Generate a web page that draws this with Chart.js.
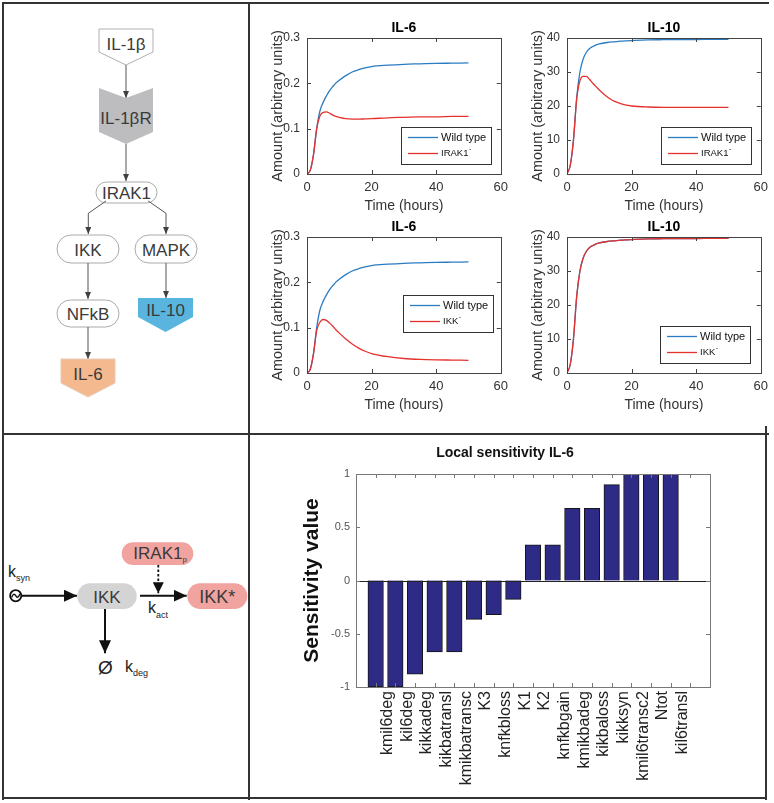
<!DOCTYPE html>
<html>
<head>
<meta charset="utf-8">
<title>IL-1b signalling model</title>
<script src="https://cdn.jsdelivr.net/npm/chart.js@4.4.0/dist/chart.umd.min.js"></script>
<style>
  body { margin: 0; background: #fff; font-family: "Liberation Sans", Arial, sans-serif; }
  #page { position: relative; width: 774px; height: 803px; overflow: hidden; }
  .rule { position: absolute; background: #333; }
  canvas { position: absolute; }
  svg { position: absolute; left: 0; top: 0; }
  svg text { font-family: "Liberation Sans", Arial, sans-serif; }
</style>
</head>
<body>
<div id="page">
  <!-- figure grid -->
  <div class="rule" style="left:2px;top:2px;width:767px;height:2px"></div>
  <div class="rule" style="left:2px;top:2px;width:2px;height:798px"></div>
  <div class="rule" style="left:248px;top:2px;width:2px;height:798px"></div>
  <div class="rule" style="left:2px;top:433px;width:767px;height:2px"></div>
  <div class="rule" style="left:765px;top:426px;width:2px;height:374px"></div>
  <div class="rule" style="left:2px;top:797px;width:765px;height:2px"></div>

  <svg width="249" height="803">
    <defs>
      <marker id="tip" viewBox="0 0 7 6" refX="7" refY="3" markerWidth="7" markerHeight="6" markerUnits="userSpaceOnUse" orient="auto">
        <path d="M0,0 L7,3 L0,6 z" fill="#404040"/>
      </marker>
      <marker id="bigtip" viewBox="0 0 13 12" refX="13" refY="6" markerWidth="13" markerHeight="12" markerUnits="userSpaceOnUse" orient="auto">
        <path d="M0,0 L13,6 L0,12 z" fill="#111"/>
      </marker>
      <marker id="midtip" viewBox="0 0 11 11" refX="11" refY="5.5" markerWidth="11" markerHeight="11" markerUnits="userSpaceOnUse" orient="auto">
        <path d="M0,0 L11,5.5 L0,11 z" fill="#111"/>
      </marker>
    </defs>

    <!-- pathway -->
    <g fill="#3a3a3a" font-size="17" text-anchor="middle">
      <polygon points="99,29 153,29 153,52 126,65 99,52" fill="#fff" stroke="#b0b0b0"/>
      <text x="126" y="49.5">IL-1β</text>
      <line x1="126" y1="65" x2="126" y2="98" stroke="#555" marker-end="url(#tip)"/>

      <polygon points="99,88 126,98 153,88 153,132 126,144 99,132" fill="#bdbdbf"/>
      <text x="126" y="124">IL-1βR</text>
      <line x1="126" y1="144" x2="126" y2="181" stroke="#555" marker-end="url(#tip)"/>

      <rect x="96" y="182" width="61" height="21" rx="10.5" fill="#fff" stroke="#aaa"/>
      <text x="126.5" y="198.5">IRAK1</text>
      <polyline points="106,201 88.3,213.3 88.3,234" fill="none" stroke="#555" marker-end="url(#tip)"/>
      <polyline points="148.3,201 166,213.3 166,234" fill="none" stroke="#555" marker-end="url(#tip)"/>

      <rect x="57" y="235" width="62" height="28" rx="14" fill="#fff" stroke="#aaa"/>
      <text x="88" y="255.5">IKK</text>
      <rect x="135" y="235" width="62" height="28" rx="14" fill="#fff" stroke="#aaa"/>
      <text x="166" y="255.5">MAPK</text>

      <line x1="88" y1="263" x2="88" y2="299" stroke="#555" marker-end="url(#tip)"/>
      <rect x="57" y="300" width="62" height="27" rx="13.5" fill="#fff" stroke="#aaa"/>
      <text x="88" y="319.5">NFkB</text>

      <line x1="166" y1="263" x2="166" y2="298" stroke="#555" marker-end="url(#tip)"/>
      <polygon points="138,298 193,298 193,317 165.5,332 138,317" fill="#59b5de"/>
      <text x="165.5" y="316">IL-10</text>

      <line x1="88" y1="327" x2="88" y2="359" stroke="#555" marker-end="url(#tip)"/>
      <polygon points="61,359 115,359 115,383 88,397 61,383" fill="#f4b98f" stroke="#e6cbb8"/>
      <text x="88" y="379.5">IL-6</text>
    </g>

    <!-- IKK module -->
    <g fill="#222">
      <text x="8" y="577" font-size="16">k<tspan font-size="9" dy="4">syn</tspan></text>
      <circle cx="15.7" cy="595.7" r="5.6" fill="none" stroke="#111" stroke-width="1.8"/>
      <path d="M11.6,597.4 Q13.6,592 15.7,595.7 T19.8,594" fill="none" stroke="#111" stroke-width="1.4"/>
      <line x1="22" y1="595.7" x2="77" y2="595.7" stroke="#111" stroke-width="2" marker-end="url(#bigtip)"/>

      <rect x="77.3" y="583.3" width="59.4" height="25.7" rx="12.85" fill="#d4d4d4"/>
      <text x="107" y="602.5" font-size="17" fill="#3a3a3a" text-anchor="middle">IKK</text>
      <line x1="140" y1="595.7" x2="186.7" y2="595.7" stroke="#111" stroke-width="2" marker-end="url(#bigtip)"/>

      <rect x="121.7" y="542.3" width="71.6" height="22.7" rx="11.35" fill="#f1a3a0"/>
      <text x="133.3" y="559.3" font-size="17" fill="#3a3a3a">IRAK1<tspan font-size="8" dy="3">p</tspan></text>
      <line x1="158.3" y1="565" x2="158.3" y2="593.3" stroke="#111" stroke-width="1.8" stroke-dasharray="2.5,2" marker-end="url(#midtip)"/>
      <text x="148" y="613.3" font-size="16">k<tspan font-size="9" dy="4.5">act</tspan></text>

      <rect x="187.3" y="583.3" width="60" height="25.7" rx="12.85" fill="#f1a3a0"/>
      <text x="217.3" y="602.7" font-size="18" fill="#3a3a3a" text-anchor="middle">IKK*</text>

      <line x1="105" y1="609" x2="105" y2="653.3" stroke="#111" stroke-width="2" marker-end="url(#bigtip)"/>
      <text x="105.5" y="674" font-size="19" text-anchor="middle">Ø</text>
      <text x="125" y="671.7" font-size="16">k<tspan font-size="9" dy="4">deg</tspan></text>
    </g>
  </svg>

  <canvas id="il6Irak" width="262" height="217" style="left:252px;top:8px"></canvas>
  <canvas id="il10Irak" width="262" height="217" style="left:512px;top:8px"></canvas>
  <canvas id="il6IkkChart" width="262" height="217" style="left:252px;top:207px"></canvas>
  <canvas id="il10IkkChart" width="262" height="217" style="left:512px;top:207px"></canvas>
  <canvas id="sens" width="460" height="361" style="left:300px;top:436px"></canvas>
</div>

<script>
// time course values (hours)
var hours = [0, 1, 2, 3, 4, 5, 6, 7, 8, 9, 10, 12, 14, 16, 18, 20, 25, 30, 35, 40, 45, 50];

var il6Wild  = [0, 0.008, 0.042, 0.100, 0.139, 0.158, 0.172, 0.184, 0.193, 0.201, 0.207, 0.217, 0.225, 0.230, 0.234, 0.237, 0.240, 0.242, 0.243, 0.244, 0.2445, 0.245];
var il6Irak1 = [0, 0.008, 0.042, 0.100, 0.128, 0.136, 0.137, 0.134, 0.130, 0.127, 0.125, 0.122, 0.121, 0.121, 0.1215, 0.122, 0.124, 0.125, 0.126, 0.126, 0.127, 0.127];
var il6Ikk   = [0, 0.008, 0.042, 0.094, 0.112, 0.118, 0.116, 0.110, 0.103, 0.095, 0.088, 0.075, 0.064, 0.055, 0.048, 0.043, 0.036, 0.032, 0.030, 0.029, 0.0285, 0.028];

var il10Wild  = [0, 2.5, 10, 22.5, 30, 33.8, 35.8, 36.9, 37.5, 38.0, 38.3, 38.6, 38.85, 39.0, 39.15, 39.25, 39.45, 39.5, 39.55, 39.55, 39.6, 39.6];
var il10Irak1 = [0, 2.5, 10, 22, 27.4, 28.7, 28.7, 27.8, 26.7, 25.7, 24.7, 23.0, 21.7, 20.9, 20.3, 20.0, 19.7, 19.6, 19.6, 19.6, 19.6, 19.6];
var il10Ikk   = [0, 2.5, 10, 22.5, 30, 33.8, 35.8, 36.9, 37.5, 38.0, 38.3, 38.6, 38.85, 39.0, 39.15, 39.25, 39.45, 39.5, 39.55, 39.55, 39.6, 39.6];

var timeTicks = [0, 20, 40, 60];
var il6Ticks = [0, 0.1, 0.2, 0.3];
var il10Ticks = [0, 10, 20, 30, 40];

// local sensitivity of IL-6
var params = ['kmil6deg', 'kil6deg', 'kikkadeg', 'kikbatransl', 'kmikbatransc', 'K3', 'knfkbloss', 'K1', 'K2',
  'knfkbgain', 'kmikbadeg', 'kikbaloss', 'kikksyn', 'kmil6transc2', 'Ntot', 'kil6transl'];
var sensitivity = [-1, -1, -0.88, -0.67, -0.67, -0.365, -0.32, -0.177, 0.336, 0.336, 0.678, 0.678, 0.9, 1, 1, 1];
var sensTicks = [-1, -0.5, 0, 0.5, 1];

var blue = '#2a7cc2';
var red = '#e5322f';
var font = '"Liberation Sans", Arial, sans-serif';

Chart.defaults.font.family = font;
Chart.defaults.color = '#333';

// matlab style box with ticks pointing inward
var matlabFrame = {
  id: 'matlabFrame',
  afterDatasetsDraw: function(chart, args, opts) {
    var ctx = chart.ctx;
    var a = chart.chartArea;
    var xs = chart.scales.x;
    var ys = chart.scales.y;
    var tl = 4;
    ctx.save();
    ctx.lineWidth = 1;
    if (opts.zeroLine) {
      var zy = Math.round(ys.getPixelForValue(0)) + 0.5;
      ctx.strokeStyle = '#222';
      ctx.beginPath();
      ctx.moveTo(a.left, zy);
      ctx.lineTo(a.right, zy);
      ctx.stroke();
    }
    ctx.strokeStyle = opts.color;
    ctx.strokeRect(Math.round(a.left) + 0.5, Math.round(a.top) + 0.5, Math.round(a.right - a.left), Math.round(a.bottom - a.top));
    ctx.beginPath();
    for (var i = 1; i < xs.ticks.length - 1; i++) {
      var px = Math.round(xs.getPixelForTick(i)) + 0.5;
      ctx.moveTo(px, a.bottom); ctx.lineTo(px, a.bottom - tl);
      ctx.moveTo(px, a.top); ctx.lineTo(px, a.top + tl);
    }
    for (var j = 1; j < ys.ticks.length - 1; j++) {
      var py = Math.round(ys.getPixelForTick(j)) + 0.5;
      ctx.moveTo(a.left, py); ctx.lineTo(a.left + tl, py);
      ctx.moveTo(a.right, py); ctx.lineTo(a.right - tl, py);
    }
    ctx.stroke();
    ctx.restore();
  }
};

// legend box drawn inside the axes
var boxLegend = {
  id: 'boxLegend',
  afterDraw: function(chart, args, opts) {
    if (!opts || opts.right == null) return;
    var ctx = chart.ctx;
    var a = chart.chartArea;
    var sets = chart.data.datasets;
    ctx.save();
    var tw = 0;
    sets.forEach(function(d) {
      ctx.font = (d.label.indexOf('⁻') > -1 ? '9.5px ' : '11px ') + font;
      tw = Math.max(tw, ctx.measureText(d.label).width);
    });
    var w = Math.round(40 + tw + 5);
    var h = 37;
    var x = Math.round(a.right - opts.right - w);
    var y = Math.round(opts.top != null ? a.top + opts.top : a.bottom - opts.bottom - h);
    ctx.fillStyle = '#fff';
    ctx.fillRect(x, y, w, h);
    ctx.strokeStyle = '#333';
    ctx.lineWidth = 1;
    ctx.strokeRect(x + 0.5, y + 0.5, w, h);
    sets.forEach(function(d, i) {
      var ry = y + 10.5 + i * 16;
      ctx.strokeStyle = d.borderColor;
      ctx.lineWidth = d.borderWidth;
      ctx.beginPath();
      ctx.moveTo(x + 7, ry);
      ctx.lineTo(x + 37, ry);
      ctx.stroke();
      ctx.fillStyle = '#111';
      ctx.textBaseline = 'middle';
      if (d.label.indexOf('⁻') > -1) {
        var base = d.label.replace('⁻', '');
        ctx.font = '9.5px ' + font;
        ctx.fillText(base, x + 40, ry);
        var bw = ctx.measureText(base).width;
        ctx.font = '7px ' + font;
        ctx.fillText('-', x + 40.5 + bw, ry - 4);
      } else {
        ctx.font = '11px ' + font;
        ctx.fillText(d.label, x + 40, ry);
      }
    });
    ctx.restore();
  }
};

function lineChart(id, title, yTicks, series, legendPos) {
  var sets = series.map(function(s) {
    return {
      label: s.label,
      data: hours.map(function(h, i) { return {x: h, y: s.values[i]}; }),
      borderColor: s.color,
      borderWidth: 1.3,
      pointRadius: 0,
      fill: false,
      cubicInterpolationMode: 'monotone',
      order: s.order
    };
  });
  return new Chart(document.getElementById(id), {
    type: 'line',
    data: {datasets: sets},
    options: {
      responsive: false,
      animation: false,
      devicePixelRatio: 1,
      layout: {padding: {left: 0, right: 10, top: 0, bottom: 0}},
      plugins: {
        legend: {display: false},
        tooltip: {enabled: false},
        title: {display: true, fullSize: false, text: title, color: '#000',
          font: {size: 14, weight: 'bold'}, padding: {top: 11.6, bottom: 1.6}},
        matlabFrame: {color: '#444'},
        boxLegend: legendPos
      },
      scales: {
        x: {
          type: 'linear',
          min: timeTicks[0],
          max: timeTicks[timeTicks.length - 1],
          grid: {display: false, drawTicks: false},
          border: {display: false},
          ticks: {stepSize: timeTicks[1] - timeTicks[0], color: '#333', font: {size: 13}, padding: 6},
          title: {display: true, text: 'Time (hours)', color: '#333', font: {size: 14}, padding: {top: 0, bottom: 10}},
          afterFit: function(scale) { scale.height = 51; }
        },
        y: {
          min: yTicks[0],
          max: yTicks[yTicks.length - 1],
          grid: {display: false, drawTicks: false},
          border: {display: false},
          ticks: {stepSize: yTicks[1] - yTicks[0], color: '#333', font: {size: 12}, padding: 7},
          title: {display: true, text: 'Amount (arbitrary units)', color: '#333', font: {size: 14.5}, padding: {top: 17.5, bottom: 0}},
          afterFit: function(scale) { scale.width = 55; }
        }
      }
    },
    plugins: [matlabFrame, boxLegend]
  });
}

lineChart('il6Irak', 'IL-6', il6Ticks, [
  {label: 'Wild type', values: il6Wild, color: blue, order: 1},
  {label: 'IRAK1⁻', values: il6Irak1, color: red, order: 0}
], {right: 10, bottom: 10});

lineChart('il10Irak', 'IL-10', il10Ticks, [
  {label: 'Wild type', values: il10Wild, color: blue, order: 1},
  {label: 'IRAK1⁻', values: il10Irak1, color: red, order: 0}
], {right: 10, bottom: 10});

lineChart('il6IkkChart', 'IL-6', il6Ticks, [
  {label: 'Wild type', values: il6Wild, color: blue, order: 1},
  {label: 'IKK⁻', values: il6Ikk, color: red, order: 0}
], {right: 8, top: 58});

lineChart('il10IkkChart', 'IL-10', il10Ticks, [
  {label: 'Wild type', values: il10Wild, color: blue, order: 1},
  {label: 'IKK⁻', values: il10Ikk, color: red, order: 0}
], {right: 11, bottom: 10});

// sensitivity bars: empty slot before and two after, like the matlab axes
new Chart(document.getElementById('sens'), {
  type: 'bar',
  data: {
    labels: [''].concat(params, ['', '']),
    datasets: [{
      data: [null].concat(sensitivity, [null, null]),
      backgroundColor: '#2e2b86',
      borderColor: '#151515',
      borderWidth: 1,
      barThickness: 15.5
    }]
  },
  options: {
    responsive: false,
    animation: false,
    devicePixelRatio: 1,
    layout: {padding: {left: 0, right: 50, top: 0, bottom: 0}},
    plugins: {
      legend: {display: false},
      tooltip: {enabled: false},
      title: {display: true, text: 'Local sensitivity IL-6', color: '#111',
        font: {size: 14, weight: 'bold'}, padding: {top: 8.6, bottom: 12.6}},
      matlabFrame: {color: '#777', zeroLine: true}
    },
    scales: {
      x: {
        offset: false,
        grid: {display: false, drawTicks: false},
        border: {display: false},
        ticks: {autoSkip: false, minRotation: 90, maxRotation: 90, color: '#222', font: {size: 16}, padding: 4, labelOffset: 12},
        afterFit: function(scale) { scale.height = 110; }
      },
      y: {
        min: sensTicks[0],
        max: sensTicks[sensTicks.length - 1],
        grid: {display: false, drawTicks: false},
        border: {display: false},
        ticks: {
          stepSize: sensTicks[1] - sensTicks[0], color: '#555', font: {size: 11}, padding: 6,
          callback: function(v) { return String(v); }
        },
        title: {display: true, text: 'Sensitivity value', color: '#111', font: {size: 21, weight: 'bold'}, padding: {top: 0, bottom: 0}},
        afterFit: function(scale) { scale.width = 56; }
      }
    }
  },
  plugins: [matlabFrame]
});
</script>
</body>
</html>
